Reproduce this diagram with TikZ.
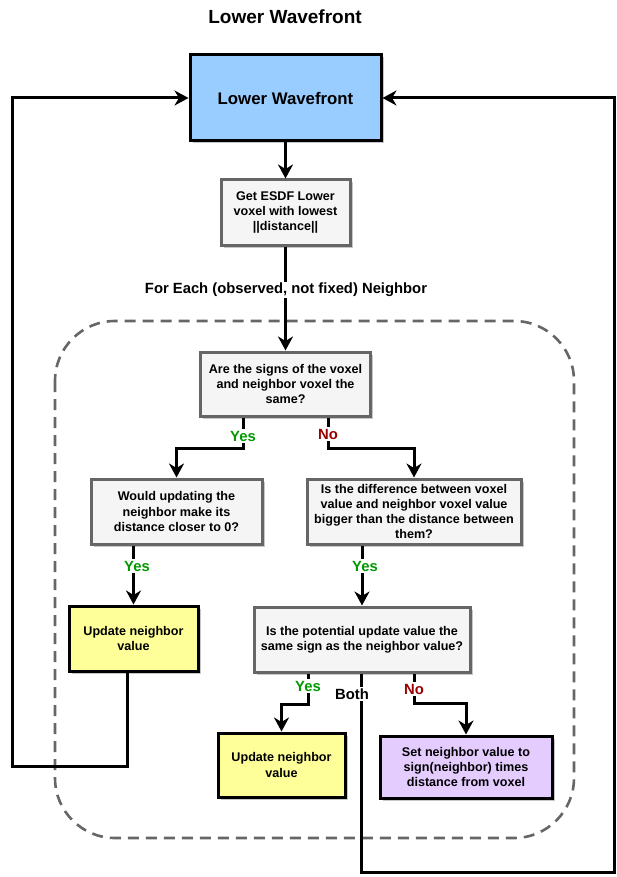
\documentclass[tikz,border=0pt]{standalone}
\usepackage{fontspec}
\setmainfont{Liberation Sans}
\usetikzlibrary{arrows.meta,shadows,calc}
\definecolor{bordergray}{HTML}{666666}
\definecolor{boxgray}{HTML}{F5F5F5}
\definecolor{boxblue}{HTML}{99CCFF}
\definecolor{boxyellow}{HTML}{FFFF99}
\definecolor{boxpurple}{HTML}{E5CCFF}
\definecolor{yesgreen}{HTML}{009900}
\definecolor{nored}{HTML}{990000}
\begin{document}
\begin{tikzpicture}[x=1pt,y=-1pt,
  shad/.style={drop shadow={shadow xshift=2.5pt,shadow yshift=-2.5pt,opacity=0.22,fill=black}},
  box/.style={draw=bordergray, fill=boxgray, line width=3pt, align=center, inner sep=2pt,
    font=\bfseries\fontsize{12.6}{15.2}\selectfont, shad},
  abox/.style={box, draw=black},
  lbl/.style={fill=white, inner sep=1.5pt, font=\bfseries\fontsize{14.8}{16}\selectfont},
  arr/.style={line width=3pt, -{Stealth[length=14pt,width=15pt,inset=4.5pt]}},
  ln/.style={line width=3pt}]
\useasboundingbox (0,0) rectangle (616,877);

% title
\node[font=\bfseries\fontsize{19}{22}\selectfont] (title) at (285,17) {Lower Wavefront};

% dashed region
\draw[bordergray, line width=2.6pt, dash pattern=on 11pt off 7pt, rounded corners=60pt]
  (55,321) rectangle (574,838);

% nodes
\node[abox, fill=boxblue, minimum width=191pt, minimum height=86pt,
  font=\bfseries\fontsize{16.8}{19}\selectfont] (top) at (285.5,98) {Lower Wavefront};
\node[box, minimum width=129pt, minimum height=65pt] (b2) at (285.5,212.5)
  {Get ESDF Lower\\voxel with lowest\\||distance||};
\node[box, minimum width=170pt, minimum height=64pt] (b3) at (285.5,384)
  {Are the signs of the voxel\\and neighbor voxel the\\same?};
\node[box, minimum width=171pt, minimum height=65pt] (b4) at (176.5,511.5)
  {Would updating the\\neighbor make its\\distance closer to 0?};
\node[box, minimum width=214pt, minimum height=65pt] (b5) at (414,511.5)
  {Is the difference between voxel\\value and neighbor voxel value\\bigger than the distance between\\them?};
\node[abox, fill=boxyellow, minimum width=129pt, minimum height=65pt] (b6) at (133.5,638.5)
  {Update neighbor\\value};
\node[box, minimum width=216pt, minimum height=65pt] (b7) at (362,639.5)
  {Is the potential update value the\\same sign as the neighbor value?};
\node[abox, fill=boxyellow, minimum width=127pt, minimum height=64pt] (b8) at (281.5,765)
  {Update neighbor\\value};
\node[abox, fill=boxpurple, minimum width=172pt, minimum height=62pt] (b9) at (466,767)
  {Set neighbor value to\\sign(neighbor) times\\distance from voxel};

% waypoints
\coordinate (l1) at (12,766);
\coordinate (r1) at (614,872);

% connectors
\draw[arr] (top.south) -- (b2.north);
\draw[arr] (b2.south) -- (b3.north);
\node[lbl] (each) at (286,290) {For Each (observed, not fixed) Neighbor};

\draw[arr] ([xshift=-42pt]b3.south) -- ++(0,31) -| (b4.north);
\draw[arr] ([xshift=43pt]b3.south) -- ++(0,31) -| (b5.north);
\node[lbl, text=yesgreen] (y1) at (243,436) {Yes};
\node[lbl, text=nored] (n1) at (328,434) {No};

\draw[arr] (b4.south -| b6.north) -- (b6.north);
\node[lbl, text=yesgreen] (y2) at (137,566) {Yes};

\draw[arr] (b5.south -| b7.north) -- (b7.north);
\node[lbl, text=yesgreen] (y3) at (365,566) {Yes};

\draw[arr] ([xshift=-54pt]b7.south) -- ++(0,31) -| (b8.north);
\draw[arr] ([xshift=52pt]b7.south) -- ++(0,30) -| (b9.north);
\draw[arr] ([xshift=-1pt]b7.south) |- (r1) |- (top.east);
\node[lbl, text=yesgreen] (y4) at (308,686) {Yes};
\node[lbl, text=nored] (n2) at (414,689) {No};
\node[lbl] (both) at (352,694) {Both};

\draw[arr] ([xshift=-6.5pt]b6.south) |- (l1) |- (top.west);
\end{tikzpicture}
\end{document}
